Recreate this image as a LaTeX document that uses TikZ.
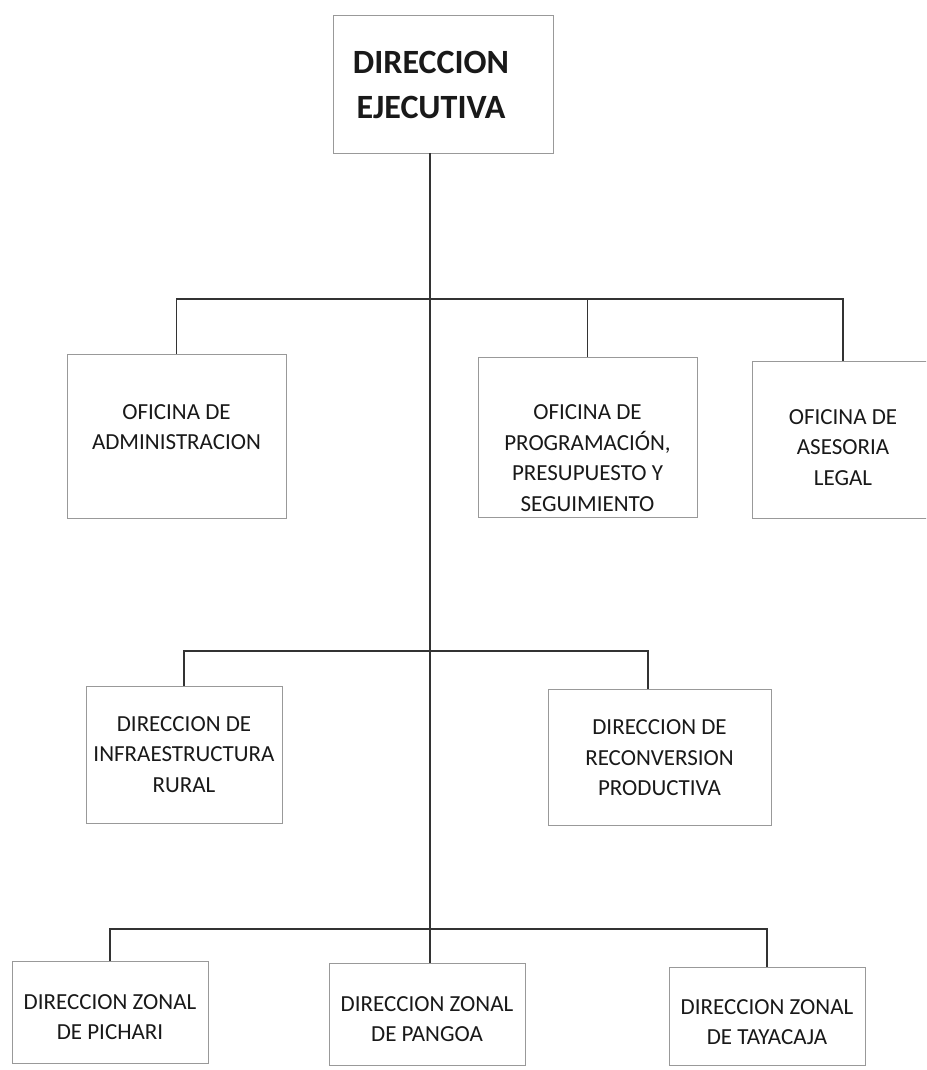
\documentclass[tikz,border=0pt]{standalone}
\usepackage{fontspec}
\setmainfont{Carlito}

\tikzset{
  unit/.style={draw=black!40, line width=0.7pt, fill=white, inner sep=0pt},
  lbl/.style={align=center, text=black!90, font=\fontsize{23}{30.5}\selectfont},
  title/.style={align=center, text=black!90, font=\fontsize{34}{45}\selectfont\bfseries},
  link/.style={draw=black!80, line width=1.8pt, line join=miter}
}

\begin{document}
\begin{tikzpicture}[x=1pt, y=-1pt]
  \clip (0,0) rectangle (926,1070);

  % direccion
  \node[unit, minimum width=220pt, minimum height=138pt,
        label={[title, xshift=-12pt, yshift=-1pt]center:DIRECCION\\EJECUTIVA}] (dir) at (443,84) {};

  % oficinas
  \node[unit, minimum width=219pt, minimum height=164pt,
        label={[lbl, yshift=9pt]center:OFICINA DE\\ADMINISTRACION}] (admin) at (176.5,436) {};
  \node[unit, minimum width=219pt, minimum height=160pt,
        label={[lbl, yshift=-21pt]center:OFICINA DE\\PROGRAMACIÓN,\\PRESUPUESTO Y\\SEGUIMIENTO}] (prog) at (587.5,437) {};
  \node[unit, minimum width=182pt, minimum height=157pt,
        label={[lbl, yshift=-8pt]center:OFICINA DE\\ASESORIA\\LEGAL}] (legal) at (843,439.5) {};

  % direcciones de linea
  \node[unit, minimum width=196pt, minimum height=137pt,
        label={[lbl]center:DIRECCION DE\\INFRAESTRUCTURA\\RURAL}] (infra) at (184,754.5) {};
  \node[unit, minimum width=223pt, minimum height=136pt,
        label={[lbl, yshift=-1pt]center:DIRECCION DE\\RECONVERSION\\PRODUCTIVA}] (reconv) at (659.5,757) {};

  % zonales
  \node[unit, minimum width=196pt, minimum height=102pt,
        label={[lbl, yshift=-5pt]center:DIRECCION ZONAL\\DE PICHARI}] (pichari) at (110,1012) {};
  \node[unit, minimum width=196pt, minimum height=102pt,
        label={[lbl, yshift=-5pt]center:DIRECCION ZONAL\\DE PANGOA}] (pangoa) at (427,1014) {};
  \node[unit, minimum width=196pt, minimum height=98pt,
        label={[lbl, yshift=-6pt]center:DIRECCION ZONAL\\DE TAYACAJA}] (tayacaja) at (767,1016) {};

  \coordinate (trunk) at (430,153);
  \coordinate (b1) at (430,299);
  \coordinate (b2) at (648,651);
  \coordinate (b3) at (430,929);

  \draw[link] (trunk) -- (trunk |- pangoa.north);
  \draw[link] (admin.north) |- (b1) -| (legal.north);
  \draw[link] (prog.north) -- (prog.north |- b1);
  \draw[link] (infra.north) |- (b2) -- (b2 |- reconv.north);
  \draw[link] (pichari.north) |- (b3) -| (tayacaja.north);
\end{tikzpicture}
\end{document}
